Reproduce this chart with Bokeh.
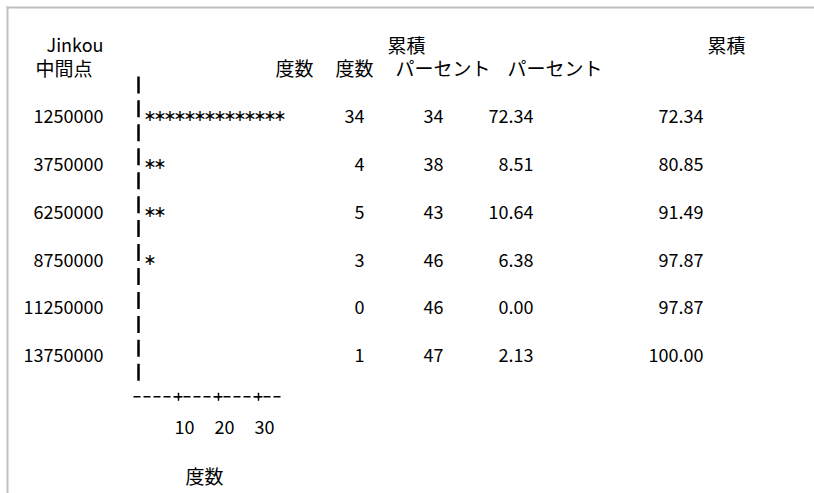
from bokeh.plotting import figure
from bokeh.models import Range1d
from bokeh.core.properties import value
from bokeh.embed import file_html
from bokeh.resources import INLINE

# ---- data ----
midpoints = ["1250000", "3750000", "6250000", "8750000", "11250000", "13750000"]
freq = [34, 4, 5, 3, 0, 1]
cum_freq = [34, 38, 43, 46, 46, 47]
percent = [72.34, 8.51, 10.64, 6.38, 0.00, 2.13]
cum_percent = [72.34, 80.85, 91.49, 97.87, 97.87, 100.00]
stars = [14, 2, 2, 1, 0, 0]
star_unit = 2.5
tick_values = [10, 20, 30]
tick_labels = ["10", "20", "30"]
var_name = "Jinkou"
mid_label = "中間点"
freq_label = "度数"
cum_label = "累積"
pct_label = "パーセント"

# ---- layout ----
W, H = 814, 493
FONT = "Noto Sans CJK JP"
FS = "18px"
FS_CJK = "19px"
PITCH = 23.95
LINE0 = 37

def ly(k):
    return LINE0 + PITCH * k

BASE = 6.5  # centre -> alphabetic baseline shift
X_ZERO = 138
PX_PER_FREQ = 4.0

p = figure(width=W, height=H, x_range=Range1d(0, W), y_range=Range1d(H, 0),
           output_backend="svg", toolbar_location=None,
           x_axis_type=None, y_axis_type=None, min_border=0)
p.outline_line_color = None
p.grid.visible = False
p.background_fill_color = "white"
p.border_fill_color = "white"

# frame border (top and left)
p.segment(x0=[6, 7], y0=[7, 6], x1=[W, 7], y1=[7, H], line_color="#c0c0c0", line_width=2)

def txt(x, y, t, align="left", size=FS):
    p.text(x=x, y=y, text=t, text_font=value(FONT), text_font_size=size,
           text_align=align, text_baseline="alphabetic", text_color="black")

# headers
txt([103], [ly(0) + BASE], [var_name], "right")
txt([35], [ly(1) + BASE], [mid_label], size=FS_CJK)
txt([275, 335], [ly(1) + BASE] * 2, [freq_label] * 2, size=FS_CJK)
txt([387, 707], [ly(0) + BASE] * 2, [cum_label] * 2, size=FS_CJK)
txt([395, 507], [ly(1) + BASE] * 2, [pct_label] * 2, size=FS_CJK)

n = len(midpoints)
row_y = [ly(3 + 2 * i) for i in range(n)]
ry = [y + BASE for y in row_y]

txt([103] * n, ry, midpoints, "right")
txt([364] * n, ry, [str(v) for v in freq], "right")
txt([443] * n, ry, [str(v) for v in cum_freq], "right")
txt([533] * n, ry, ["%.2f" % v for v in percent], "right")
txt([703] * n, ry, ["%.2f" % v for v in cum_percent], "right")

# vertical bar made of "|" segments, one per text line
ks = list(range(2, 2 * n + 3))
p.segment(x0=[X_ZERO] * len(ks), y0=[ly(k) - 9 for k in ks],
          x1=[X_ZERO] * len(ks), y1=[ly(k) + 8 for k in ks],
          line_color="black", line_width=2.5)

# star bars
sx, sy = [], []
for i in range(n):
    for j in range(stars[i]):
        sx.append(X_ZERO + PX_PER_FREQ * star_unit * (j + 1) + 1.5)
        sy.append(row_y[i] + 6)
p.text(x=sx, y=sy, text=["∗"] * len(sx), text_font=value("DejaVu Sans"),
       text_font_size="16px", text_align="center", text_baseline="alphabetic",
       text_color="black")

# horizontal axis
ay = ly(2 * n + 3)
p.line(x=[X_ZERO - 5, X_ZERO + PX_PER_FREQ * 36.25], y=[ay, ay],
       line_color="black", line_width=1.5, line_dash="7 3")
tx = [X_ZERO + PX_PER_FREQ * t for t in tick_values]
p.scatter(x=tx, y=[ay] * len(tx), marker="cross", size=8, line_width=1.5,
          line_color="black")
txt([x + 6 for x in tx], [ly(2 * n + 4) + BASE] * len(tx), tick_labels, "center")
txt([185], [ly(2 * n + 6) + BASE], [freq_label], size=FS_CJK)

open("out.html", "w").write(file_html(p, INLINE))
